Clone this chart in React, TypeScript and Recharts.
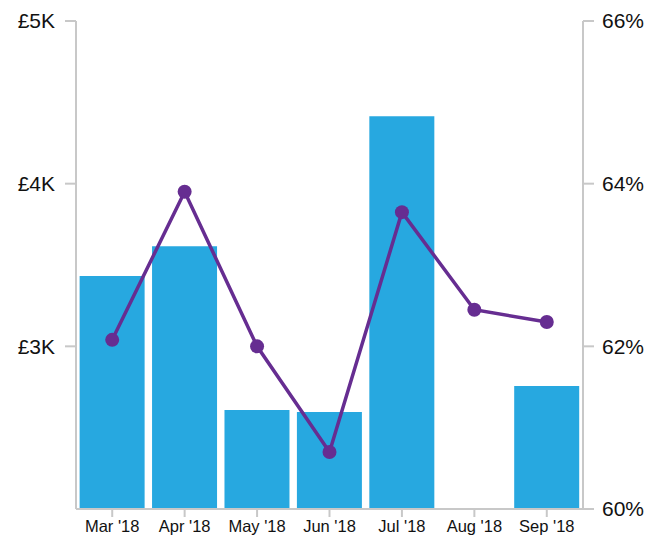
import { ComposedChart, Bar, Line, XAxis, YAxis } from "recharts";

const months = ["Mar '18", "Apr '18", "May '18", "Jun '18", "Jul '18", "Aug '18", "Sep '18"];
const revenue: (number | null)[] = [3432, 3616, 2608, 2596, 4415, null, 2756];
const margin = [62.08, 63.9, 62.0, 60.7, 63.65, 62.45, 62.3];
const leftTicks = [3000, 4000, 5000];
const rightTicks = [60, 62, 64, 66];

const data = months.map((m, i) => ({ month: m, revenue: revenue[i], margin: margin[i] }));

const axisColor = "#c8c8c8";
const font = "'Liberation Sans', Arial, sans-serif";

export default function App() {
  return (
    <div style={{ position: "absolute", left: 0, top: 0, width: 652, height: 542, background: "#fff" }}>
      <ComposedChart width={652} height={542} data={data} margin={{ top: 21, right: 0, left: 0, bottom: 0 }} barCategoryGap="5%">
        <XAxis
          dataKey="month"
          height={33}
          stroke={axisColor}
          strokeWidth={2}
          tickSize={8}
          tickMargin={3}
          tick={{ fill: "#111", fontSize: 16.5, fontFamily: font }}
          interval={0}
        />
        <YAxis
          yAxisId="left"
          orientation="left"
          width={76}
          domain={[2000, 5000]}
          ticks={leftTicks}
          tickFormatter={(v: number) => `£${v / 1000}K`}
          stroke={axisColor}
          strokeWidth={2}
          tickSize={11}
          tickMargin={10}
          tick={{ fill: "#111", fontSize: 21, fontFamily: font }}
          allowDataOverflow
        />
        <YAxis
          yAxisId="right"
          orientation="right"
          width={69}
          domain={[60, 66]}
          ticks={rightTicks}
          tickFormatter={(v: number) => `${v}%`}
          stroke={axisColor}
          strokeWidth={2}
          tickSize={11}
          tickMargin={8}
          tick={{ fill: "#111", fontSize: 21, fontFamily: font }}
        />
        <Bar yAxisId="left" dataKey="revenue" fill="#27a8e0" isAnimationActive={false} />
        <Line
          yAxisId="right"
          dataKey="margin"
          stroke="#662d91"
          strokeWidth={3.5}
          dot={{ r: 7, fill: "#662d91", stroke: "#662d91", strokeWidth: 0 }}
          activeDot={false}
          isAnimationActive={false}
        />
      </ComposedChart>
    </div>
  );
}
